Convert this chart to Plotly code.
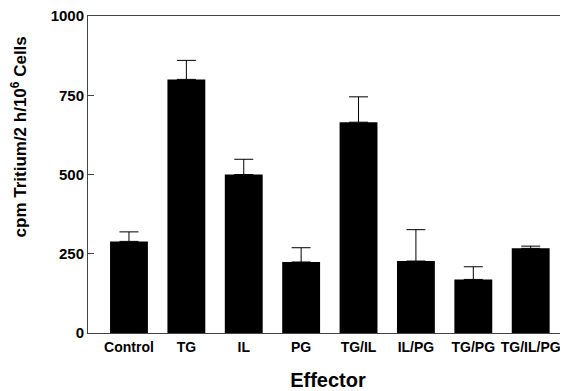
import plotly.graph_objects as go

categories = ["Control", "TG", "IL", "PG", "TG/IL", "IL/PG", "TG/PG", "TG/IL/PG"]
values = [289, 800, 500, 224, 665, 227, 169, 267]
errors = [30, 60, 48, 45, 80, 99, 40, 7]
y_ticks = [0, 250, 500, 750, 1000]

FONT = "Liberation Sans, Arial, Helvetica, sans-serif"

fig = go.Figure(
    go.Bar(
        x=list(range(len(categories))),
        y=values,
        marker=dict(color="black", line=dict(width=0)),
        width=0.66,
        error_y=dict(type="data", array=errors, arrayminus=[0] * len(errors),
                     symmetric=False, color="black", thickness=1, width=9.5),
    )
)

# page body has an 8px default margin, so the figure is drawn 8px smaller
fig.update_layout(
    width=560, height=383,
    margin=dict(l=80, r=0, t=8, b=58, autoexpand=False),
    paper_bgcolor="white", plot_bgcolor="white",
    showlegend=False,
    font=dict(family=FONT, color="black"),
    xaxis=dict(
        range=[-0.714, 7.65],
        automargin=False,
        tickmode="array",
        tickvals=list(range(len(categories))),
        ticktext=categories,
        tickfont=dict(size=14, family=FONT, weight="bold"),
        ticklabelstandoff=1,
        ticklabeloverflow="allow",
        showline=True, linecolor="#444", linewidth=1, mirror=True,
        ticks="", showgrid=False, zeroline=False,
        title=dict(text="Effector", font=dict(size=20, family=FONT, weight="bold"), standoff=19),
    ),
    yaxis=dict(
        range=[0, 1000],
        automargin=False,
        tickmode="array",
        tickvals=y_ticks,
        ticktext=[str(v) for v in y_ticks],
        tickfont=dict(size=15, family=FONT, weight="bold"),
        showline=True, linecolor="#444", linewidth=1,
        ticks="inside", ticklen=6, tickcolor="#444",
        ticklabelstandoff=0,
        ticklabeloverflow="allow",
        showgrid=False, zeroline=False,
    ),
    annotations=[dict(
        text="cpm Tritium/2 h/10<sup>6</sup> Cells",
        xref="paper", yref="paper", x=-0.143, y=0.618,
        xanchor="center", yanchor="middle", textangle=-90, showarrow=False,
        font=dict(size=17, family=FONT, weight="bold", color="black"),
    )],
)

fig.write_html("out.html")
